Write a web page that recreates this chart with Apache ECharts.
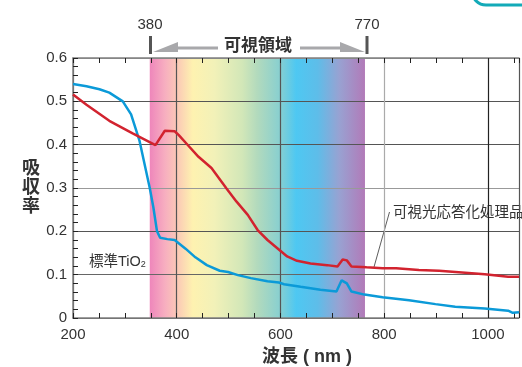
<!DOCTYPE html>
<html><head><meta charset="utf-8">
<script src="https://cdn.jsdelivr.net/npm/echarts@6/dist/echarts.min.js"></script>
<style>html,body{margin:0;padding:0;background:#fff}#c{width:522px;height:367px}</style>
</head><body><div id="c"></div>
<script>
// ---- data ----
const stdNm  = [200,226,251,270,296,312,328,348,355,362,368,382,396,417,436,458,483,499,518,543,575,597,607,639,677,708,718,728,737,762,797,848,899,937,994,1039,1048,1060];
const stdVal = [0.54,0.535,0.528,0.52,0.50,0.47,0.41,0.30,0.255,0.20,0.185,0.182,0.18,0.16,0.14,0.122,0.109,0.106,0.099,0.092,0.085,0.082,0.078,0.072,0.065,0.061,0.087,0.080,0.061,0.054,0.048,0.041,0.032,0.026,0.022,0.017,0.012,0.013];
const visNm  = [200,226,270,315,359,377,396,404,423,442,467,496,515,537,556,575,594,613,632,658,690,710,720,728,737,766,797,823,867,906,950,994,1039,1060];
const visVal = [0.516,0.492,0.455,0.426,0.399,0.432,0.431,0.422,0.397,0.372,0.346,0.299,0.269,0.238,0.203,0.18,0.161,0.142,0.132,0.126,0.122,0.119,0.135,0.133,0.119,0.117,0.115,0.115,0.111,0.109,0.105,0.101,0.095,0.095];
const bandRange = [348, 763];
const xTicks = [200,400,600,800,1000];
const yTicks = [0,0.1,0.2,0.3,0.4,0.5,0.6];
const seriesNames = ['標準TiO2','可視光応答化処理品'];
const visLabels = ['380','770','可視領域'];

const FF = "'Liberation Sans','Noto Sans CJK JP',sans-serif";
const chart = echarts.init(document.getElementById('c'));
const pair = (a,b)=>a.map((v,i)=>[v,b[i]]);

const bandGrad = {type:'linear',x:0,y:0,x2:1,y2:0,colorStops:[
  {offset:0,color:'#ee86bb'},{offset:0.07,color:'#f7aec0'},{offset:0.13,color:'#fbcab6'},
  {offset:0.2,color:'#fef2b0'},{offset:0.3,color:'#f2f1b8'},{offset:0.43,color:'#d2e7b8'},
  {offset:0.5,color:'#b2dabd'},{offset:0.6,color:'#8ad0cf'},{offset:0.68,color:'#4ec8f2'},
  {offset:0.78,color:'#5ebde9'},{offset:0.88,color:'#98a2d2'},{offset:1,color:'#b27ab8'}]};

const tickStyle = {show:true,inside:true,length:5,lineStyle:{color:'#222',width:1}};
const minor = {show:true,length:5,lineStyle:{color:'#222',width:1}};

chart.setOption({
  animation:false,
  textStyle:{fontFamily:FF},
  grid:{left:73,right:0,top:58,bottom:49},
  xAxis:[{
    type:'value',min:200,max:1060,interval:200,z:3,
    axisLine:{lineStyle:{color:'#808080',width:1.5}},
    axisTick:tickStyle,
    minorTick:Object.assign({splitNumber:4},minor),
    axisLabel:{color:'#333',fontSize:15,margin:9,fontFamily:FF,
      formatter:v=>xTicks.includes(v)?String(v):''},
    splitLine:{show:true,lineStyle:{color:['#555','#555','#555','#aaa','#222'],width:1.2}}
  },{
    type:'value',position:'top',min:200,max:1060,interval:200,z:3,
    axisLine:{show:true,lineStyle:{color:'#808080',width:1.5}},
    axisTick:tickStyle,
    minorTick:Object.assign({splitNumber:4},minor),
    axisLabel:{show:false},splitLine:{show:false}
  }],
  yAxis:{
    type:'value',min:0,max:0.6,interval:0.1,z:3,
    axisLine:{show:true,lineStyle:{color:'#808080',width:1.5}},
    axisTick:tickStyle,
    minorTick:Object.assign({splitNumber:5},minor),
    axisLabel:{color:'#333',fontSize:15,margin:6,fontFamily:FF,
      formatter:v=>{const t=yTicks.find(k=>Math.abs(k-v)<1e-6);return t===undefined?'':(t===0?'0':t.toFixed(1));}},
    splitLine:{show:true,lineStyle:{color:['#555','#666','#555','#999','#555','#555','#999'],width:1.2}}
  },
  series:[
    {type:'line',data:[],z:1,silent:true,
     markArea:{silent:true,itemStyle:{color:bandGrad},data:[[{xAxis:bandRange[0]},{xAxis:bandRange[1]}]]}},
    {name:seriesNames[0],type:'line',data:pair(stdNm,stdVal),showSymbol:false,
     lineStyle:{color:'#0b9ad8',width:2.5},z:5},
    {name:seriesNames[1],type:'line',data:pair(visNm,visVal),showSymbol:false,
     lineStyle:{color:'#d2232f',width:2.5},z:5}
  ],
  graphic:[
    {type:'rect',shape:{x:472,y:-40,width:100,height:45,r:14},style:{fill:'none',stroke:'#13aab8',lineWidth:3}},
    {type:'rect',shape:{x:149,y:36,width:3,height:18},style:{fill:'#555'}},
    {type:'rect',shape:{x:365.5,y:36,width:3,height:18},style:{fill:'#555'}},
    {type:'text',x:150,y:25,style:{text:visLabels[0],fill:'#333',font:'15px '+FF,align:'center',verticalAlign:'middle'}},
    {type:'text',x:367,y:25,style:{text:visLabels[1],fill:'#333',font:'15px '+FF,align:'center',verticalAlign:'middle'}},
    {type:'text',x:258,y:46,style:{text:visLabels[2],fill:'#333',font:'bold 17px '+FF,align:'center',verticalAlign:'middle'}},
    {type:'rect',shape:{x:177,y:46.5,width:41,height:3},style:{fill:'#a8a8ab'}},
    {type:'polygon',shape:{points:[[153,52],[178,42],[178,52]]},style:{fill:'#a8a8ab'}},
    {type:'rect',shape:{x:300,y:46.5,width:41,height:3},style:{fill:'#a8a8ab'}},
    {type:'polygon',shape:{points:[[340,42],[340,52],[365,52]]},style:{fill:'#a8a8ab'}},
    {type:'text',x:31,y:188,style:{text:'吸\n収\n率',fill:'#333',font:'bold 18px '+FF,align:'center',verticalAlign:'middle',lineHeight:19}},
    {type:'text',x:262,y:357,style:{text:'波長 ( nm )',fill:'#333',font:'bold 18px '+FF,align:'left',verticalAlign:'middle'}},
    {type:'line',shape:{x1:152,y1:259,x2:168,y2:242},style:{stroke:'#333',lineWidth:0.8}},
    {type:'text',x:89,y:262,style:{rich:{a:{fontSize:14.5,fill:'#333',fontFamily:FF},s:{fontSize:9,fill:'#333',fontFamily:FF,padding:[6,0,0,0]}},
      text:'{a|標準TiO}{s|2}',verticalAlign:'middle'}},
    {type:'line',shape:{x1:374,y1:267,x2:389.5,y2:212},style:{stroke:'#333',lineWidth:0.8}},
    {type:'text',x:393,y:213,style:{text:seriesNames[1],fill:'#333',font:'14.5px '+FF,verticalAlign:'middle'}}
  ]
});
</script></body></html>
